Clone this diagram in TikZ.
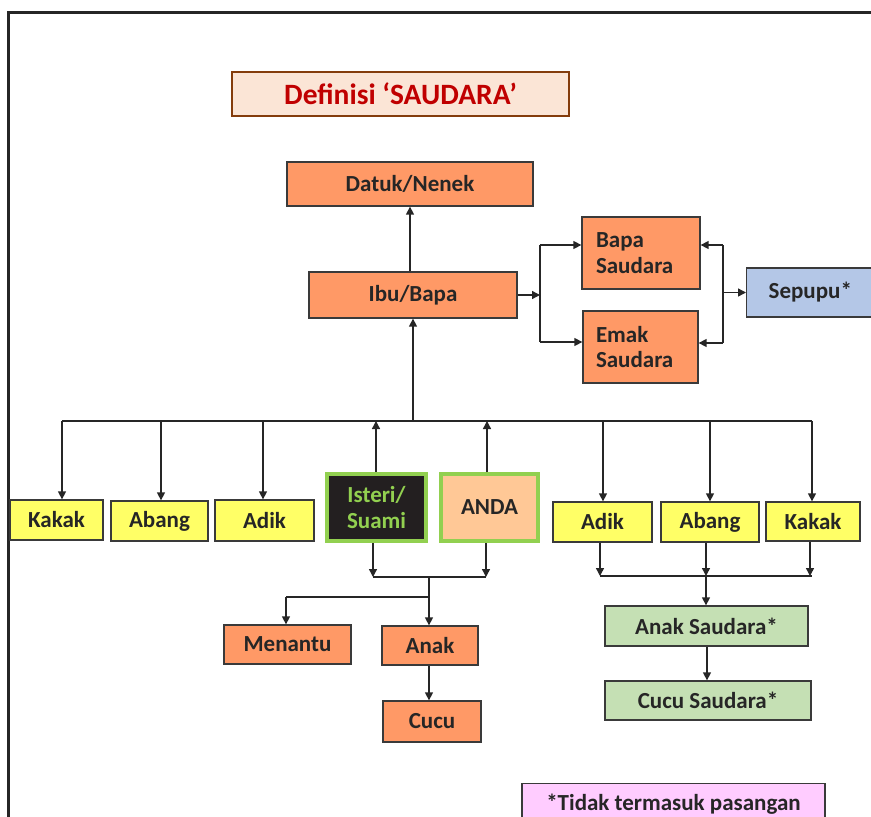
\documentclass[tikz,border=0pt]{standalone}
\usepackage{fontspec}
\setmainfont{Carlito}
\usetikzlibrary{arrows.meta,calc}
\definecolor{orangef}{HTML}{FF9966}
\definecolor{yellowf}{HTML}{FFFF66}
\definecolor{greenf}{HTML}{C5E0B4}
\definecolor{bluef}{HTML}{B4C7E7}
\definecolor{pinkf}{HTML}{FFCCFF}
\definecolor{andaf}{HTML}{FFC896}
\definecolor{istf}{HTML}{231F20}
\definecolor{grb}{HTML}{92D050}
\definecolor{titlef}{HTML}{FBE5D6}
\definecolor{titleb}{HTML}{843C0C}
\definecolor{titlet}{HTML}{C00000}
\definecolor{txt}{HTML}{262626}
\definecolor{boxline}{HTML}{3A3A3A}
\definecolor{conline}{HTML}{262626}
\definecolor{framec}{HTML}{262626}
\begin{document}
\begin{tikzpicture}[x=1pt,y=-1pt,
  box/.style={draw=boxline, line width=1.3pt, inner sep=0pt, text=txt, align=center,
    font=\bfseries\fontsize{23}{25.5}\selectfont},
  ofill/.style={box, fill=orangef},
  yfill/.style={box, fill=yellowf},
  gfill/.style={box, fill=greenf},
  self/.style={box, draw=grb, line width=4pt},
  con/.style={draw=conline, line width=1.4pt},
  arr/.style={con, -{Triangle[length=8pt,width=8pt]}}
]
\useasboundingbox (0,0) rectangle (871,817);
% frame
\draw[line width=3pt, framec] (8,820) -- (8,12) -- (875,12);

% title
\node[box, draw=titleb, line width=1.8pt, fill=titlef, text=titlet,
  font=\bfseries\fontsize{29.5}{32}\selectfont,
  minimum width=337pt, minimum height=44pt] (title) at (400.5,94) {Definisi ‘SAUDARA’};

% upper nodes
\node[ofill, minimum width=246pt, minimum height=44pt] (datuk) at (410,184) {Datuk/Nenek};
\node[ofill, minimum width=208pt, minimum height=46pt] (ibu) at (413,295) {Ibu/Bapa};
\node[ofill, text width=90pt, inner xsep=14pt, align=left, minimum height=72pt] (bapa) at (641,253) {Bapa\\Saudara};
\node[ofill, text width=89pt, inner xsep=13pt, align=left, minimum height=72pt] (emak) at (640.5,347) {Emak\\Saudara};
\node[box, fill=bluef, anchor=west, text width=116pt, inner xsep=22pt, align=left, minimum height=49pt] (sep) at (746,292.5) {Sepupu*};

% row nodes
\node[yfill, minimum width=93pt, minimum height=40pt] (kakL) at (56.5,520) {Kakak};
\node[yfill, minimum width=97pt, minimum height=40pt] (abaL) at (159.5,521) {Abang};
\node[yfill, minimum width=99pt, minimum height=41pt] (adiL) at (264.5,520.5) {Adik};
\node[self, fill=istf, text=grb, minimum width=99pt, minimum height=67pt] (ist) at (376.5,507.5) {Isteri/\\Suami};
\node[self, fill=andaf, minimum width=97pt, minimum height=67pt] (anda) at (489.5,507.5) {ANDA};
\node[yfill, minimum width=99pt, minimum height=40pt] (adiR) at (602.5,522) {Adik};
\node[yfill, minimum width=98pt, minimum height=40pt] (abaR) at (710,522) {Abang};
\node[yfill, minimum width=94pt, minimum height=39pt] (kakR) at (813,521.5) {Kakak};

% lower nodes
\node[ofill, minimum width=127pt, minimum height=39pt] (men) at (287.5,644.5) {Menantu};
\node[ofill, minimum width=96pt, minimum height=39pt] (anak) at (430,645.5) {Anak};
\node[ofill, minimum width=98pt, minimum height=41pt] (cucu) at (432,721.5) {Cucu};
\node[gfill, minimum width=203pt, minimum height=40pt] (anakS) at (706.5,626) {Anak Saudara*};
\node[gfill, minimum width=206pt, minimum height=39pt] (cucuS) at (708,700.5) {Cucu Saudara*};
\node[box, fill=pinkf, anchor=north, minimum width=303pt, inner ysep=10pt] (note) at (673.5,783) {*Tidak termasuk pasangan};

% coordinates
\coordinate (j1) at (540,295);
\coordinate (jb) at (540,245);
\coordinate (je) at (540,342);
\coordinate (k1) at (723,292.5);
\coordinate (kb) at (723,245);
\coordinate (ke) at (723,343);
\coordinate (busL) at (62,421);
\coordinate (busR) at (812,421);
\coordinate (b0) at (413,421);
\coordinate (b2) at (161,421);
\coordinate (b3) at (263,421);
\coordinate (bI) at (376,421);
\coordinate (bA) at (487,421);
\coordinate (b4) at (603,421);
\coordinate (b5) at (710,421);
\coordinate (l1) at (373,577);
\coordinate (l2) at (486,577);
\coordinate (lm) at (429,577);
\coordinate (lb) at (429,597);
\coordinate (lmen) at (286,597);
\coordinate (r1) at (600,576);
\coordinate (r2) at (706,576);
\coordinate (r3) at (810,576);
\coordinate (r3e) at (812,576);

% upper connectors
\draw[arr] (ibu.north -| datuk.south) -- (datuk.south);
\draw[arr] (ibu.east) -- (j1);
\draw[con] (jb) -- (je);
\draw[arr] (jb) -- (jb -| bapa.west);
\draw[arr] (je) -- (je -| emak.west);
\draw[con] (kb) -- (ke);
\draw[arr] (k1) -- (sep.west);
\draw[arr] (kb) -- (kb -| bapa.east);
\draw[arr] (ke) -- (ke -| emak.east);

% main bus
\draw[con] (busL) -- (busR);
\draw[arr] (b0) -- (ibu.south);
\draw[arr] (busL) -- (busL |- kakL.north);
\draw[arr] (b2) -- (b2 |- abaL.north);
\draw[arr] (b3) -- (b3 |- adiL.north);
\draw[arr] (bI |- ist.north) -- (bI);
\draw[arr] (bA |- anda.north) -- (bA);
\draw[arr] (b4) -- (b4 |- adiR.north);
\draw[arr] (b5) -- (b5 |- abaR.north);
\draw[arr] (busR) -- (busR |- kakR.north);

% lower left
\draw[arr] (l1 |- ist.south) -- (l1);
\draw[arr] (l2 |- anda.south) -- (l2);
\draw[con] (l1) -- (l2);
\draw[arr] (lm) -- (lm |- anak.north);
\draw[con] (lb) -- (lmen);
\draw[arr] (lmen) -- (lmen |- men.north);
\draw[arr] (anak.south -| lm) -- (cucu.north -| lm);

% lower right
\draw[arr] (r1 |- adiR.south) -- (r1);
\draw[arr] (r2 |- abaR.south) -- (r2);
\draw[arr] (r3 |- kakR.south) -- (r3);
\draw[con] (r1) -- (r3e);
\draw[arr] (r2) -- (r2 |- anakS.north);
\draw[arr] (anakS.south -| 707,0) -- (cucuS.north -| 707,0);
\end{tikzpicture}
\end{document}
